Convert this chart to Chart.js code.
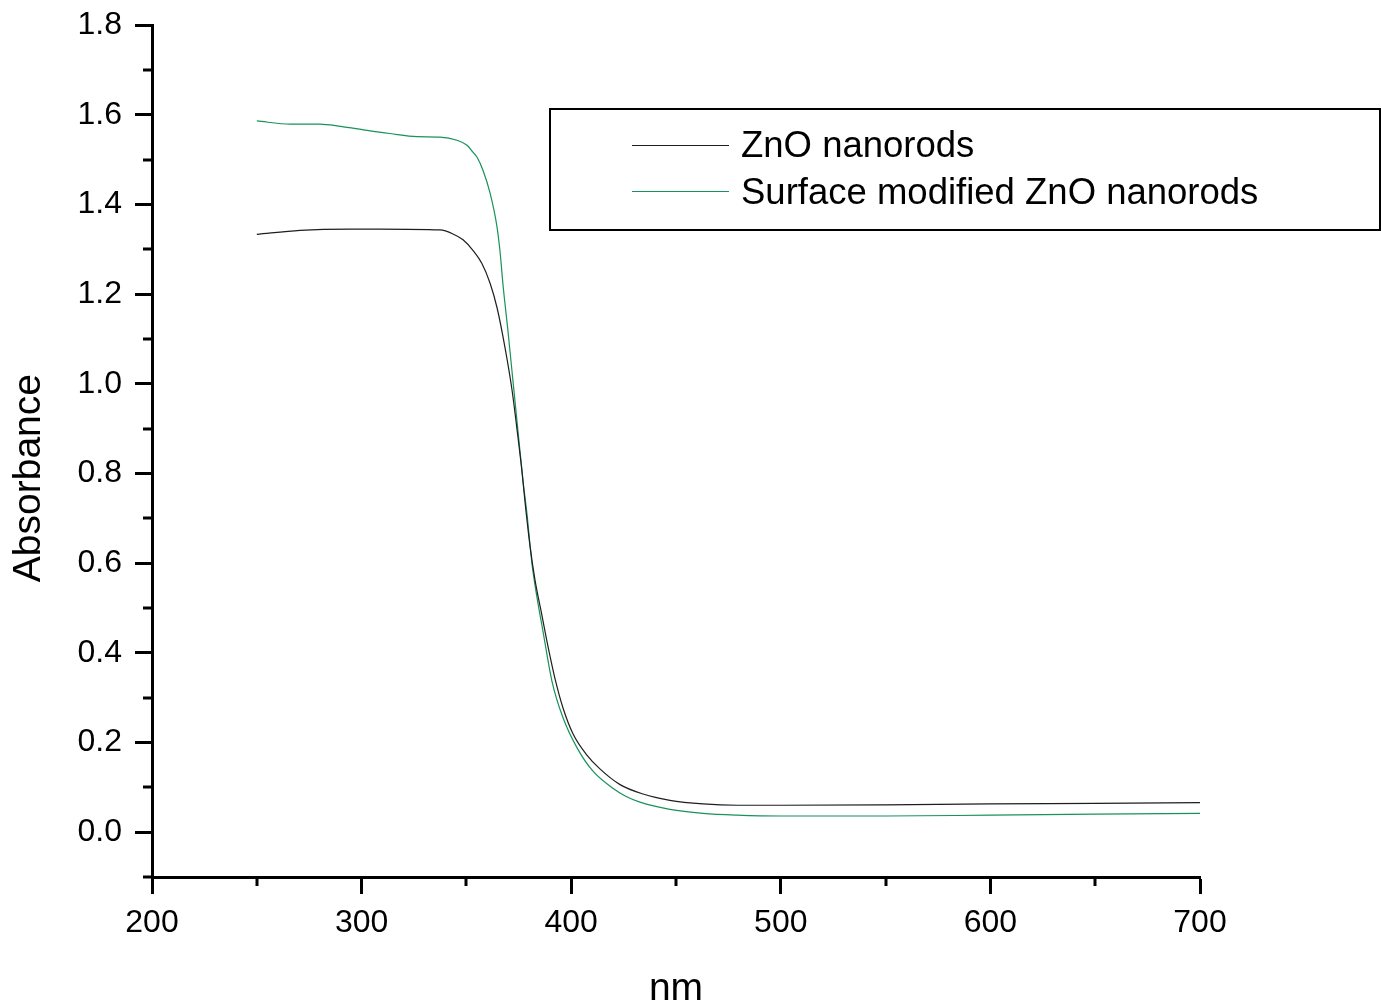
<!DOCTYPE html>
<html>
<head>
<meta charset="utf-8">
<script src="https://cdn.jsdelivr.net/npm/chart.js@4/dist/chart.umd.min.js"></script>
<style>
  html, body { margin: 0; padding: 0; background: #ffffff; }
  #wrap { width: 1381px; height: 1004px; }
</style>
</head>
<body>
<div id="wrap"><canvas id="c" width="1381" height="1004"></canvas></div>
<script>
// ---- data ----
const seriesNames = ['ZnO nanorods', 'Surface modified ZnO nanorods'];

const znoWavelength = [250, 270.6, 294.5, 308.8, 337.4, 343.6, 348.4, 353.2, 357.4, 361.3, 364.6, 368.4, 371.8, 374.1, 376.5, 378.0, 380.3, 382.7, 386.1, 388.9, 392.3, 396.1, 400.9, 407.5, 413.7, 423.3, 434.3, 447.1, 462.9, 479.1, 500, 550, 600, 650, 700];
const znoAbsorbance = [1.333, 1.342, 1.345, 1.345, 1.343, 1.334, 1.321, 1.297, 1.268, 1.224, 1.170, 1.081, 0.985, 0.900, 0.805, 0.735, 0.640, 0.563, 0.482, 0.415, 0.342, 0.277, 0.219, 0.172, 0.141, 0.106, 0.085, 0.071, 0.063, 0.060, 0.060, 0.061, 0.063, 0.064, 0.066];

const modWavelength = [250, 266, 280, 290, 302.6, 313.5, 326.4, 337.4, 345.5, 350.3, 353.2, 355.1, 357.9, 361.3, 364.6, 366, 367.5, 369.8, 372.2, 374.6, 377, 378.9, 381.3, 383.7, 386.5, 390.8, 396.1, 402.8, 410.4, 419.9, 426.0, 432.8, 447.1, 462.9, 479.1, 500, 550, 600, 650, 700];
const modAbsorbance = [1.586, 1.579, 1.579, 1.574, 1.565, 1.558, 1.551, 1.550, 1.543, 1.532, 1.516, 1.505, 1.476, 1.425, 1.350, 1.297, 1.219, 1.119, 1.007, 0.895, 0.784, 0.710, 0.598, 0.523, 0.449, 0.337, 0.255, 0.188, 0.136, 0.098, 0.080, 0.067, 0.051, 0.042, 0.038, 0.036, 0.036, 0.038, 0.040, 0.042];

const xMajorTicks = [200, 300, 400, 500, 600, 700];
const xMinorTicks = [250, 350, 450, 550, 650];
const yMajorTicks = [0.0, 0.2, 0.4, 0.6, 0.8, 1.0, 1.2, 1.4, 1.6, 1.8];
const yMinorTicks = [-0.1, 0.1, 0.3, 0.5, 0.7, 0.9, 1.1, 1.3, 1.5, 1.7];

const xTitle = 'nm';
const yTitle = 'Absorbance';

// ---- build ----
const FONT = '"Liberation Sans", Arial, Helvetica, sans-serif';
const toPoints = (xs, ys) => xs.map((x, i) => ({ x: x, y: ys[i] }));
const colors = ['#1e1e1e', '#17925a'];

const minorTicksPlugin = {
  id: 'minorTicks',
  afterDraw(chart) {
    const ctx = chart.ctx;
    const xs = chart.scales.x, ys = chart.scales.y;
    ctx.save();
    ctx.strokeStyle = '#000';
    ctx.lineWidth = 3;
    ctx.beginPath();
    xMinorTicks.forEach(v => {
      const px = Math.round(xs.getPixelForValue(v));
      ctx.moveTo(px, xs.top);
      ctx.lineTo(px, xs.top + 9);
    });
    yMinorTicks.forEach(v => {
      const py = Math.round(ys.getPixelForValue(v));
      ctx.moveTo(ys.right, py);
      ctx.lineTo(ys.right - 9, py);
    });
    ctx.stroke();
    ctx.restore();
  }
};

const boxLegendPlugin = {
  id: 'boxLegend',
  afterDraw(chart) {
    const ctx = chart.ctx;
    ctx.save();
    ctx.strokeStyle = '#000';
    ctx.lineWidth = 2;
    ctx.strokeRect(550, 109, 830, 121);
    ctx.font = '36.5px ' + FONT;
    ctx.fillStyle = '#000';
    ctx.textBaseline = 'alphabetic';
    ctx.textAlign = 'left';
    const lineYs = [145, 191];
    const textYs = [157, 204];
    chart.data.datasets.forEach((ds, i) => {
      ctx.strokeStyle = ds.borderColor;
      ctx.lineWidth = 1;
      ctx.beginPath();
      ctx.moveTo(632, lineYs[i] + 0.5);
      ctx.lineTo(729, lineYs[i] + 0.5);
      ctx.stroke();
      ctx.fillText(ds.label, 741, textYs[i]);
    });
    ctx.restore();
  }
};

new Chart(document.getElementById('c'), {
  type: 'line',
  data: {
    datasets: [
      { label: seriesNames[0], data: toPoints(znoWavelength, znoAbsorbance), borderColor: colors[0], borderWidth: 1.2, pointRadius: 0, fill: false, cubicInterpolationMode: 'monotone' },
      { label: seriesNames[1], data: toPoints(modWavelength, modAbsorbance), borderColor: colors[1], borderWidth: 1.2, pointRadius: 0, fill: false, cubicInterpolationMode: 'monotone' }
    ]
  },
  options: {
    responsive: false,
    animation: false,
    devicePixelRatio: 1,
    layout: { padding: { left: 0, top: 25, right: 181, bottom: 0 } },
    plugins: { legend: { display: false }, tooltip: { enabled: false } },
    scales: {
      x: {
        type: 'linear',
        min: 200, max: 700,
        afterBuildTicks: s => { s.ticks = xMajorTicks.map(v => ({ value: v })); },
        afterFit: s => { s.height = 127; s.paddingLeft = 0; s.paddingRight = 0; },
        border: { display: true, color: '#000', width: 3 },
        grid: { drawOnChartArea: false, drawTicks: true, tickLength: 17, tickWidth: 3, tickColor: '#000' },
        ticks: { color: '#000', font: { family: FONT, size: 32 }, padding: 10, maxRotation: 0, autoSkip: false, callback: v => String(v) },
        title: { display: true, text: xTitle, color: '#000', font: { family: FONT, size: 39, lineHeight: 0.75 }, padding: { top: 0, bottom: 0 } }
      },
      y: {
        type: 'linear',
        min: -0.1, max: 1.8,
        afterBuildTicks: s => { s.ticks = yMajorTicks.map(v => ({ value: v })); },
        afterFit: s => { s.width = 152; s.paddingTop = 0; s.paddingBottom = 0; },
        border: { display: true, color: '#000', width: 3 },
        grid: { drawOnChartArea: false, drawTicks: true, tickLength: 17, tickWidth: 3, tickColor: '#000' },
        ticks: { color: '#000', font: { family: FONT, size: 32 }, padding: 13, autoSkip: false, callback: v => v.toFixed(1) },
        title: { display: true, text: yTitle + '     ', color: '#000', font: { family: FONT, size: 39, lineHeight: 1.2 }, padding: { top: 6, bottom: 0 } }
      }
    }
  },
  plugins: [minorTicksPlugin, boxLegendPlugin]
});
</script>
</body>
</html>
